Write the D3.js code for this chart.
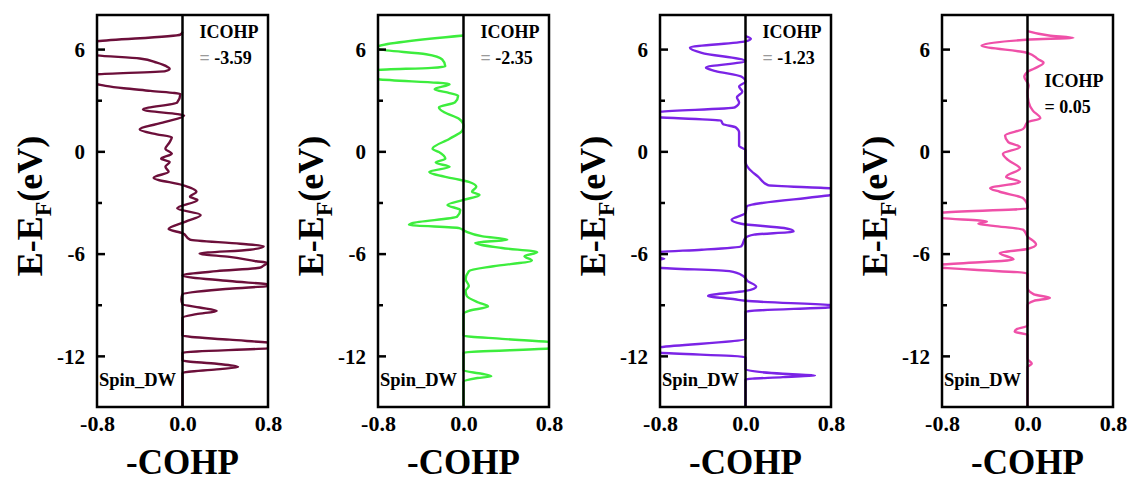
<!DOCTYPE html>
<html>
<head>
<meta charset="utf-8">
<script src="https://cdn.jsdelivr.net/npm/d3@7"></script>
<style>
body { margin: 0; background: #fff; }
text { font-family: "Liberation Serif", "Times New Roman", serif; font-weight: bold; }
</style>
</head>
<body>
<svg id="chart" width="1134" height="481"></svg>
<script>
// -COHP curves, [energy (eV), -COHP]
const cohpA = [
    [7.0, 0], [6.85, -0.02], [6.46, -0.8], [6.2, -1.1], [5.85, -0.95], [5.63, -0.8], [5.45, -0.4],
    [5.2, -0.24], [4.95, -0.14], [4.85, -0.12], [4.71, -0.16], [4.52, -0.8], [4.25, -1.1], [3.94, -0.8],
    [3.84, -0.72], [3.7, -0.55], [3.55, -0.3], [3.36, -0.02], [2.87, -0.05], [2.45, -0.37], [2.1, 0.015],
    [1.71, -0.17], [1.28, -0.4], [1.0, -0.24], [0.83, -0.1], [0.54, -0.12], [0.15, -0.16], [-0.14, -0.1],
    [-0.43, -0.2], [-0.62, -0.12], [-0.91, -0.16], [-1.2, -0.13], [-1.55, -0.27], [-1.98, 0.0],
    [-2.37, 0.13], [-2.66, 0.07], [-2.85, 0.14], [-3.34, -0.05], [-3.73, 0.17], [-4.12, 0.03],
    [-4.56, -0.13], [-4.8, 0.0], [-5.18, 0.07], [-5.42, 0.54], [-5.57, 0.76], [-5.77, 0.63], [-6.0, 0.16],
    [-6.19, 0.44], [-6.45, 0.69], [-6.54, 0.79], [-6.74, 0.75], [-6.83, 0.72], [-7.03, 0.32], [-7.28, 0.0],
    [-7.61, 0.44], [-7.86, 0.85], [-8.06, 0.44], [-8.39, 0.0], [-8.68, -0.01], [-8.97, 0.0], [-9.16, 0.16],
    [-9.36, 0.32], [-9.55, 0.13], [-9.75, 0.0], [-10.81, 0.0], [-11.05, 0.44], [-11.24, 0.84], [-11.39, 1.0],
    [-11.55, 0.82], [-11.82, 0.0], [-12.27, 0.0], [-12.46, 0.32], [-12.66, 0.52], [-12.79, 0.32],
    [-13.0, 0.0], [-15, 0]
];
const cohpB = [
    [6.8, 0], [6.17, -0.8], [6.1, -0.82], [6.0, -0.8], [5.7, -0.35], [5.4, -0.2], [5.0, -0.17], [4.9, -0.3],
    [4.78, -0.8], [4.5, -1.0], [4.23, -0.8], [3.94, -0.13], [3.65, -0.27], [3.42, -0.13], [3.26, -0.05],
    [2.87, -0.08], [2.58, -0.23], [2.29, -0.18], [1.9, -0.04], [1.51, 0.0], [1.22, -0.01], [0.74, -0.13],
    [0.15, -0.29], [-0.04, -0.23], [-0.43, -0.17], [-0.66, -0.26], [-0.91, -0.13], [-1.2, -0.32],
    [-1.59, -0.1], [-1.79, 0.05], [-2.08, 0.12], [-2.37, 0.08], [-2.56, 0.15], [-2.85, 0.0], [-3.15, -0.15],
    [-3.44, -0.03], [-3.83, -0.06], [-4.21, -0.48], [-4.31, -0.51], [-4.5, -0.04], [-4.7, 0.02],
    [-4.99, 0.18], [-5.18, 0.41], [-5.37, 0.11], [-5.67, 0.36], [-5.92, 0.69], [-6.15, 0.57], [-6.41, 0.64],
    [-6.74, 0.28], [-7.03, 0.05], [-7.51, 0.02], [-7.9, 0.05], [-8.2, 0.02], [-8.48, 0.03], [-8.87, 0.14],
    [-9.1, 0.23], [-9.36, 0.05], [-9.55, 0.0], [-10.81, 0], [-11.0, 0.36], [-11.2, 0.84], [-11.38, 1.0],
    [-11.55, 0.84], [-11.82, 0], [-12.85, 0], [-13.05, 0.17], [-13.2, 0.26], [-13.3, 0.13], [-13.53, 0],
    [-15, 0]
];
const cohpC = [
    [6.76, 0], [6.6, 0.05], [6.45, 0.0], [6.08, -0.52], [5.78, -0.41], [5.3, 0.0], [4.91, -0.37],
    [4.71, -0.28], [4.39, -0.04], [4.1, 0.0], [3.8, -0.06], [3.5, -0.03], [3.16, -0.08], [2.87, -0.06],
    [2.58, -0.1], [2.33, -0.8], [2.17, -1.0], [2.0, -0.8], [1.8, -0.23], [1.6, -0.21], [1.4, -0.09],
    [1.1, -0.06], [0.33, -0.06], [0.06, 0], [-0.62, 0], [-1.0, 0.03], [-1.5, 0.12], [-1.98, 0.21],
    [-2.17, 0.8], [-2.35, 1.0], [-2.56, 0.8], [-3.24, 0.01], [-3.63, 0.0], [-4.02, -0.13], [-4.25, -0.04],
    [-4.5, 0.36], [-4.7, 0.45], [-4.89, 0.08], [-5.08, 0], [-5.57, -0.04], [-5.77, -0.41], [-5.9, -0.8],
    [-6.1, -1.0], [-6.3, -0.76], [-6.5, -1.0], [-6.83, -0.8], [-7.03, -0.15], [-7.32, -0.02], [-7.61, 0.02],
    [-7.94, 0.1], [-8.19, 0], [-8.48, -0.35], [-8.68, -0.1], [-8.77, 0], [-9.03, 0.84], [-9.1, 0.95],
    [-9.16, 0.77], [-9.41, 0], [-11.0, 0], [-11.49, -0.8], [-11.65, -1.0], [-11.82, -0.8], [-12.07, 0],
    [-12.79, 0], [-13.05, 0.35], [-13.14, 0.65], [-13.25, 0.35], [-13.38, 0], [-15, 0]
];
const cohpD = [
    [7.05, 0], [6.8, 0.2], [6.66, 0.43], [6.56, 0.02], [6.21, -0.43], [5.78, 0], [5.4, 0.1], [5.2, 0.15],
    [4.85, 0.06], [4.66, 0], [4.37, -0.03], [3.88, 0.01], [3.49, 0.0], [2.9, 0.01], [2.39, 0.05],
    [1.94, 0.12], [1.71, 0], [1.32, -0.04], [0.93, -0.21], [0.54, -0.18], [0.25, -0.07], [-0.14, -0.23],
    [-0.52, -0.18], [-1.01, -0.07], [-1.5, -0.2], [-1.79, -0.07], [-2.17, -0.35], [-2.37, -0.26],
    [-2.76, -0.04], [-3.24, 0], [-3.34, 0], [-3.59, -0.8], [-3.75, -1.0], [-3.92, -0.8], [-4.12, -0.38],
    [-4.25, -0.46], [-4.37, -0.32], [-4.6, -0.04], [-4.99, 0], [-5.47, 0.08], [-5.73, 0], [-5.96, -0.26],
    [-6.35, -0.13], [-6.64, -0.8], [-6.75, -0.95], [-6.85, -0.75], [-6.95, -0.5], [-7.16, 0], [-8.0, 0],
    [-8.39, 0.06], [-8.6, 0.21], [-8.77, 0.06], [-9.03, 0], [-10.23, 0], [-10.43, -0.1], [-10.58, -0.12],
    [-10.77, 0], [-12.17, 0], [-12.46, 0.04], [-12.66, 0], [-15, 0]
];
const curves = [cohpA, cohpB, cohpC, cohpD];
const icohpValues = ["-3.59", "-2.35", "-1.23", "0.05"];
const spinLabel = "Spin_DW";
const yMajorTicks = [6, 0, -6, -12];
const yMinorTicks = [3, -3, -9];
const xTicks = [-0.8, 0.0, 0.8];

const colors = ["#6c0f3a", "#3ded3d", "#7b24e6", "#ef50a8"];
const panelLeft = [97, 378, 660, 942];
const panelW = 171;
const plotTop = 15, plotBottom = 407;

var svg = d3.select("#chart");

for (var i = 0; i < curves.length; i++) {
    var left = panelLeft[i];
    var x = d3.scaleLinear().domain([-0.8, 0.8]).range([left, left + panelW]);
    var y = d3.scaleLinear().domain([-15, 8]).range([plotBottom, plotTop]);
    var g = svg.append("g");

    g.append("clipPath").attr("id", "clip" + i)
        .append("rect").attr("x", left).attr("y", plotTop)
        .attr("width", panelW).attr("height", plotBottom - plotTop);

    var line = d3.line()
        .x(d => x(d[1]))
        .y(d => y(d[0]))
        .curve(d3.curveMonotoneY);

    g.append("path")
        .datum(curves[i])
        .attr("clip-path", "url(#clip" + i + ")")
        .attr("d", line)
        .style("fill", "none")
        .style("stroke", colors[i])
        .style("stroke-width", 2.4)
        .style("stroke-linejoin", "round");

    // zero line
    g.append("line")
        .attr("x1", x(0)).attr("x2", x(0))
        .attr("y1", plotTop).attr("y2", plotBottom)
        .style("stroke", "#000").style("stroke-width", 2.5);

    // y axis, ticks inward
    var yAxis = d3.axisLeft(y).tickValues(yMajorTicks)
        .tickSizeInner(-8).tickSizeOuter(0).tickPadding(12)
        .tickFormat(d => String(d));
    var ya = g.append("g").attr("transform", "translate(" + left + ",0)").call(yAxis);
    ya.select(".domain").remove();
    ya.selectAll("line").style("stroke", "#000").style("stroke-width", 2.5);
    ya.selectAll("text").style("font-size", "21px").style("fill", "#000")
        .style("font-family", "Liberation Serif").attr("dy", "0.34em");

    var yMinor = d3.axisLeft(y).tickValues(yMinorTicks)
        .tickSizeInner(-5).tickSizeOuter(0).tickFormat("");
    var ym = g.append("g").attr("transform", "translate(" + left + ",0)").call(yMinor);
    ym.select(".domain").remove();
    ym.selectAll("line").style("stroke", "#000").style("stroke-width", 2.5);

    // x axis labels
    var xAxis = d3.axisBottom(x).tickValues(xTicks)
        .tickSize(0).tickPadding(8)
        .tickFormat(d => d.toFixed(1));
    var xa = g.append("g").attr("transform", "translate(0," + plotBottom + ")").call(xAxis);
    xa.select(".domain").remove();
    xa.selectAll("text").style("font-size", "22px").style("fill", "#000")
        .style("font-family", "Liberation Serif");

    // frame
    g.append("rect")
        .attr("x", left).attr("y", plotTop)
        .attr("width", panelW).attr("height", plotBottom - plotTop)
        .style("fill", "none").style("stroke", "#000").style("stroke-width", 2.5);

    // axis titles
    var yl = g.append("text")
        .attr("transform", "translate(" + (left - 55) + ",206) rotate(-90)")
        .attr("text-anchor", "middle")
        .style("font-size", "36px");
    yl.append("tspan").text("E-E");
    yl.append("tspan").text("F").attr("dy", 9).style("font-size", "24px");
    yl.append("tspan").text("(eV)").attr("dy", -9);

    g.append("text")
        .attr("x", x(0)).attr("y", 474)
        .attr("text-anchor", "middle")
        .style("font-size", "35px")
        .text("-COHP");

    // ICOHP annotation
    var ty = i === 3 ? 87 : 38;
    g.append("text").attr("x", x(0) + 17).attr("y", ty)
        .style("font-size", "18px").text("ICOHP");
    var val = g.append("text").attr("x", x(0) + 17).attr("y", ty + 26)
        .style("font-size", "18px");
    val.append("tspan").text("= ").style("fill", icohpValues[i][0] === "-" ? "#9a9a9a" : "#000");
    val.append("tspan").text(icohpValues[i]);

    g.append("text").attr("x", left + 2).attr("y", 386)
        .style("font-size", "18.5px").text(spinLabel);
}
</script>
</body>
</html>
